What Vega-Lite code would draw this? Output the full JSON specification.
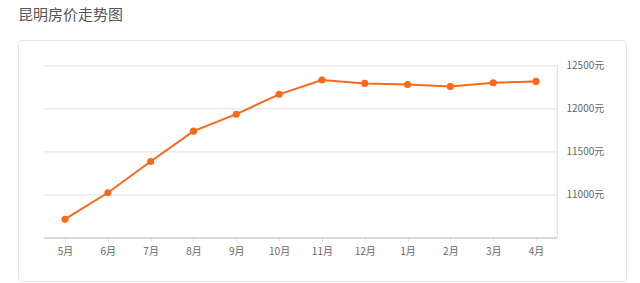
{
  "$schema": "https://vega.github.io/schema/vega-lite/v6.json",
  "autosize": {"type": "none"},
  "width": 608,
  "height": 241,
  "padding": {"left": 18, "top": 40, "right": 14, "bottom": 2},
  "background": "white",
  "title": {
    "text": "昆明房价走势图",
    "anchor": "start",
    "frame": "group",
    "orient": "top",
    "offset": 17,
    "fontSize": 15,
    "fontWeight": "normal",
    "font": "Noto Sans CJK SC",
    "color": "#555555"
  },
  "config": {
    "view": {"stroke": "#e2e2e2", "strokeWidth": 1, "cornerRadius": 4},
    "axis": {"labelFont": "Noto Sans CJK SC", "labelFontSize": 10, "labelColor": "#666666"}
  },
  "datasets": {
    "prices": [
      {"idx": 0, "month": "5月", "price": 10718},
      {"idx": 1, "month": "6月", "price": 11025},
      {"idx": 2, "month": "7月", "price": 11388},
      {"idx": 3, "month": "8月", "price": 11741},
      {"idx": 4, "month": "9月", "price": 11938},
      {"idx": 5, "month": "10月", "price": 12169},
      {"idx": 6, "month": "11月", "price": 12335},
      {"idx": 7, "month": "12月", "price": 12296},
      {"idx": 8, "month": "1月", "price": 12284},
      {"idx": 9, "month": "2月", "price": 12261},
      {"idx": 10, "month": "3月", "price": 12304},
      {"idx": 11, "month": "4月", "price": 12319}
    ],
    "grid": [
      {"level": 11000},
      {"level": 11500},
      {"level": 12000},
      {"level": 12500}
    ]
  },
  "layer": [
    {
      "data": {"name": "grid"},
      "mark": {"type": "rule", "color": "#e3e3e3", "strokeWidth": 1},
      "encoding": {
        "y": {"field": "level", "type": "quantitative"},
        "x": {"datum": -0.5, "type": "quantitative"},
        "x2": {"datum": 11.5}
      }
    },
    {
      "data": {"name": "grid"},
      "mark": {"type": "rule", "color": "#d6d6d6", "strokeWidth": 1},
      "encoding": {
        "y": {"datum": 10500, "type": "quantitative"},
        "x": {"datum": -0.5, "type": "quantitative"},
        "x2": {"datum": 11.5}
      }
    },
    {
      "data": {"name": "grid"},
      "mark": {"type": "rule", "color": "#e3e3e3", "strokeWidth": 1},
      "encoding": {
        "x": {"datum": 11.5, "type": "quantitative"},
        "y": {"datum": 10500, "type": "quantitative"},
        "y2": {"datum": 12500}
      }
    },
    {
      "data": {"name": "prices"},
      "mark": {"type": "line", "color": "#f8691a", "strokeWidth": 2, "point": {"filled": true, "size": 50, "color": "#f8691a", "opacity": 1}},
      "encoding": {
        "x": {
          "field": "idx",
          "type": "quantitative",
          "scale": {"domain": [-1.098, 13.102], "nice": false, "zero": false},
          "axis": {
            "orient": "bottom",
            "offset": -43,
            "values": [0, 1, 2, 3, 4, 5, 6, 7, 8, 9, 10, 11],
            "labelExpr": "['5月','6月','7月','8月','9月','10月','11月','12月','1月','2月','3月','4月'][datum.value]",
            "domain": false,
            "grid": false,
            "ticks": true,
            "tickSize": 3,
            "tickColor": "#dddddd",
            "labelPadding": 5,
            "title": null
          }
        },
        "y": {
          "field": "price",
          "type": "quantitative",
          "scale": {"domain": [10000, 12800], "nice": false, "zero": false},
          "axis": {
            "orient": "right",
            "offset": -69,
            "values": [11000, 11500, 12000, 12500],
            "labelExpr": "datum.value + '元'",
            "domain": false,
            "grid": false,
            "ticks": false,
            "labelPadding": 9,
            "title": null
          }
        }
      }
    }
  ]
}
